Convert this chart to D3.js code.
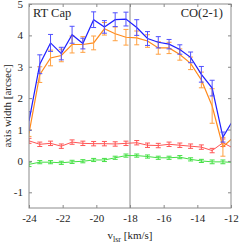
<!DOCTYPE html>
<html><head><meta charset="utf-8">
<script src="https://cdn.jsdelivr.net/npm/d3@7"></script>
<style>body{margin:0;background:#fff}svg{display:block}</style>
</head><body>
<script>
const vlsr = [-24, -23.36, -22.72, -22.08, -21.44, -20.8, -20.16, -19.52, -18.88, -18.24, -17.6, -16.96, -16.32, -15.68, -15.04, -14.4, -13.76, -13.12, -12.48, -11.84];
const blueVals = [1.27, 3.08, 3.76, 3.42, 4.02, 3.74, 4.5, 4.27, 4.5, 4.52, 4.25, 3.9, 3.78, 3.72, 3.55, 3.3, 2.76, 2.32, 0.76, 1.33];
const blueErr  = [0.3, 0.3, 0.27, 0.2, 0.27, 0.17, 0.25, 0.2, 0.22, 0.22, 0.25, 0.22, 0.18, 0.15, 0.15, 0.17, 0.25, 0.25, 0.16, 0.2];
const orangeVals = [0.88, 2.75, 3.28, 3.36, 3.71, 3.71, 3.76, 4.21, 4.05, 3.94, 3.92, 3.82, 3.6, 3.6, 3.39, 3.11, 2.58, 1.75, 0.45, 0.76];
const orangeErr  = [0.1, 0.25, 0.25, 0.2, 0.27, 0.25, 0.22, 0.2, 0.22, 0.25, 0.22, 0.2, 0.2, 0.18, 0.18, 0.2, 0.25, 0.55, 0.3, 0.3];
const redVals = [0.64, 0.53, 0.56, 0.47, 0.6, 0.56, 0.55, 0.55, 0.54, 0.56, 0.58, 0.5, 0.49, 0.53, 0.5, 0.47, 0.44, 0.33, 0.58, 0.4];
const redErr  = [0.08, 0.07, 0.07, 0.07, 0.07, 0.07, 0.07, 0.07, 0.07, 0.07, 0.07, 0.07, 0.07, 0.07, 0.07, 0.07, 0.07, 0.07, 0.12, 0.08];
const greenVals = [-0.11, -0.04, -0.04, -0.06, -0.03, -0.01, 0.03, 0.03, 0.1, 0.17, 0.17, 0.14, 0.1, 0.1, 0.12, 0.05, 0.0, -0.03, -0.03, -0.05];
const greenErr  = [0.07, 0.05, 0.05, 0.05, 0.05, 0.05, 0.05, 0.05, 0.05, 0.05, 0.05, 0.05, 0.05, 0.05, 0.05, 0.05, 0.05, 0.06, 0.06, 0.06];
const xTicks = [-24, -22, -20, -18, -16, -14, -12];
const yTicks = [-1, 0, 1, 2, 3, 4, 5];
const markerV = -18;

const W = 240, H = 245;
const L = 29, R = 231, T = 4, B = 208;
const x = d3.scaleLinear().domain([-24, -12]).range([L, R]);
const y = d3.scaleLinear().domain([-1.5, 5]).range([B, T]);
const font = "'Liberation Serif','DejaVu Serif',serif";
const txt = "#262626";
const fmt = v => String(v);

const svg = d3.select("body").append("svg").attr("width", W).attr("height", H);
svg.append("defs").append("clipPath").attr("id","clip").append("rect")
  .attr("x", L).attr("y", T).attr("width", R-L).attr("height", B-T);

svg.append("line").attr("x1", x(markerV)).attr("x2", x(markerV)).attr("y1", T).attr("y2", B)
  .attr("stroke", "#b0b0b0").attr("stroke-width", 1.5);

const series = [
  {v: greenVals, e: greenErr, line: "#44e044", bar: "#44e044", w: 1},
  {v: redVals, e: redErr, line: "#ff5555", bar: "#ff5555", w: 1},
  {v: orangeVals, e: orangeErr, line: "#ff8a1c", bar: "#ffa040", w: 1.2},
  {v: blueVals, e: blueErr, line: "#1f1fff", bar: "#5050ff", w: 1.2}
];
const g = svg.append("g").attr("clip-path", "url(#clip)");
series.forEach(s => {
  const data = vlsr.map((vv, i) => ({x: vv, y: s.v[i], e: s.e[i]}));
  g.append("path").datum(data)
    .attr("d", d3.line().x(d => x(d.x)).y(d => y(d.y)))
    .attr("fill", "none").attr("stroke", s.line).attr("stroke-width", s.w);
  const eb = g.append("g").attr("stroke", s.bar).attr("stroke-width", 1).attr("fill", "none");
  data.forEach(d => {
    const cx = x(d.x), y1 = y(d.y - d.e), y2 = y(d.y + d.e);
    eb.append("line").attr("x1", cx).attr("x2", cx).attr("y1", y1).attr("y2", y2);
    eb.append("line").attr("x1", cx-2.5).attr("x2", cx+2.5).attr("y1", y1).attr("y2", y1);
    eb.append("line").attr("x1", cx-2.5).attr("x2", cx+2.5).attr("y1", y2).attr("y2", y2);
  });
});

const ax = svg.append("g");
ax.append("g").attr("transform", `translate(0,${B})`)
  .call(d3.axisBottom(x).tickValues(xTicks).tickSizeInner(-3).tickSizeOuter(0).tickPadding(6).tickFormat(fmt));
ax.append("g").attr("transform", `translate(0,${T})`)
  .call(d3.axisTop(x).tickValues(xTicks).tickSizeInner(-3).tickSizeOuter(0).tickFormat(""));
ax.append("g").attr("transform", `translate(${L},0)`)
  .call(d3.axisLeft(y).tickValues(yTicks).tickSizeInner(-3).tickSizeOuter(0).tickPadding(6).tickFormat(fmt));
ax.append("g").attr("transform", `translate(${R},0)`)
  .call(d3.axisRight(y).tickValues(yTicks).tickSizeInner(-3).tickSizeOuter(0).tickFormat(""));
ax.selectAll(".domain").remove();
ax.selectAll(".tick line").attr("stroke", "#888");
ax.selectAll(".tick text").attr("font-family", font).attr("font-size", 11).attr("fill", txt);

svg.append("rect").attr("x", L).attr("y", T).attr("width", R-L).attr("height", B-T)
  .attr("fill", "none").attr("stroke", "#8c8c8c").attr("stroke-width", 1);

svg.append("text").attr("x", 33).attr("y", 16.7).attr("font-family", font).attr("font-size", 12.5)
  .attr("fill", txt).text("RT Cap");
svg.append("text").attr("x", 223).attr("y", 17.3).attr("text-anchor", "end").attr("font-family", font)
  .attr("font-size", 12.5).attr("fill", txt).text("CO(2-1)");

svg.append("text").attr("transform", `translate(11,${(T+B)/2}) rotate(-90)`).attr("text-anchor", "middle")
  .attr("font-family", font).attr("font-size", 11).attr("fill", txt).text("axis width [arcsec]");

const xl = svg.append("text").attr("x", (L+R)/2).attr("y", 239).attr("text-anchor", "middle")
  .attr("font-family", font).attr("font-size", 11).attr("fill", txt);
xl.append("tspan").text("v");
xl.append("tspan").attr("font-size", 8).attr("dy", 3).text("lsr");
xl.append("tspan").attr("dy", -3).text(" [km/s]");
</script>
</body></html>
